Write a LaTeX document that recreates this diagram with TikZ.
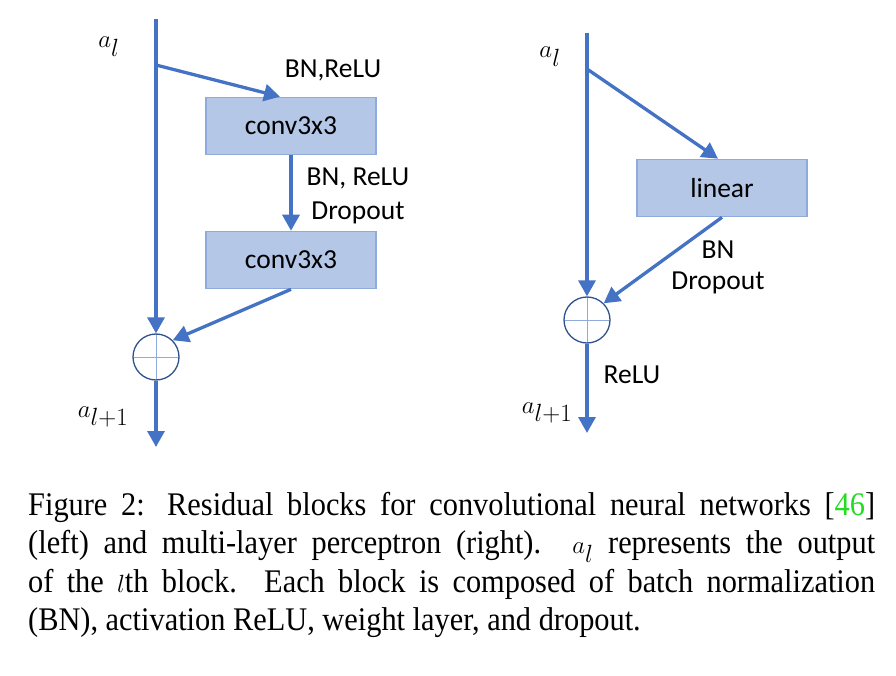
\documentclass[tikz,border=0pt]{standalone}
\usepackage{fontspec}
\setmainfont{Liberation Serif}
\newfontfamily\capfont[FakeStretch=0.92]{Liberation Serif}
\newfontfamily\lblfont{Carlito}
\usetikzlibrary{arrows.meta,positioning,calc}
\definecolor{flowblue}{HTML}{4472C4}
\definecolor{boxfill}{HTML}{B4C7E7}
\definecolor{boxedge}{HTML}{8FAADC}
\definecolor{sumedge}{HTML}{2F528F}
\definecolor{citegreen}{HTML}{22DD22}

\begin{document}
\begin{tikzpicture}[x=1pt, y=-1pt,
  flow/.style={draw=flowblue, line width=3.3pt, -{Triangle[length=16pt,width=17pt]}},
  layer/.style={draw=boxedge, line width=1.6pt, fill=boxfill, minimum width=170pt,
    minimum height=57pt, inner sep=0pt, font=\lblfont\fontsize{27.5}{30}\selectfont},
  lbl/.style={font=\lblfont\fontsize{27.5}{30}\selectfont, inner sep=0pt},
  var/.style={font=\fontsize{33}{36}\selectfont, inner sep=0pt},
  sumnode/.style={circle, draw=sumedge, line width=1.3pt, fill=white, minimum size=46pt,
    inner sep=0pt, path picture={
      \draw[boxedge, line width=1pt] (path picture bounding box.north) -- (path picture bounding box.south);
      \draw[boxedge, line width=1pt] (path picture bounding box.west) -- (path picture bounding box.east);}}]
  \useasboundingbox (0,0) rectangle (896,676);

  % Left: residual block for CNN
  \coordinate (inL) at (156,19);
  \coordinate (splitL) at (156,65);
  \node[layer] (convA) at (291,126) {conv3x3};
  \node[layer] (convB) at (291,260) {conv3x3};
  \node[sumnode] (sumL) at (156,357) {};
  \coordinate (outL) at (156,447);
  \draw[flow] (inL) -- (sumL.north);
  \draw[flow] (splitL) -- ([xshift=-11pt]convA.north);
  \draw[flow] (convA.south) -- (convB.north);
  \draw[flow] (convB.south) -- (sumL.north east);
  \draw[flow] (sumL.south) -- (outL);
  \node[var] (inLlbl) at (109,47) {$a_l$};
  \node[var] (outLlbl) at (103,417) {$a_{l+1}$};
  \node[lbl] (bnA) at (333,70) {BN,ReLU};
  \node[lbl] (bnB) at (358,178) {BN, ReLU};
  \node[lbl] (dropA) at (358,213) {Dropout};

  % Right: residual block for MLP
  \coordinate (inR) at (587,33);
  \coordinate (splitR) at (587,69);
  \node[layer] (lin) at (722,188) {linear};
  \node[sumnode] (sumR) at (587,320) {};
  \coordinate (outR) at (587,433);
  \draw[flow] (inR) -- (sumR.north);
  \draw[flow] (splitR) -- ([xshift=-4pt]lin.north);
  \draw[flow] (lin.south) -- (sumR.north east);
  \draw[flow] (sumR.south) -- (outR);
  \node[var] (inRlbl) at (550,57) {$a_l$};
  \node[var] (outRlbl) at (547,413) {$a_{l+1}$};
  \node[lbl] (bnC) at (718,250) {BN};
  \node[lbl] (dropB) at (718,283) {Dropout};
  \node[lbl] (reluR) at (632,375) {ReLU};

  % Caption
  \node[anchor=base west, text width=847pt, align=justify, inner sep=0pt,
    font=\capfont\fontsize{33}{38.5}\selectfont] (caption) at (28,515)
    {Figure 2: Residual blocks for convolutional neural networks [\textcolor{citegreen}{46}]\linebreak
     (left) and multi-layer perceptron (right). $a_l$ represents the output\linebreak
     of the $l$th block. Each block is composed of batch normalization\linebreak
     (BN), activation ReLU, weight layer, and dropout.};
\end{tikzpicture}
\end{document}
